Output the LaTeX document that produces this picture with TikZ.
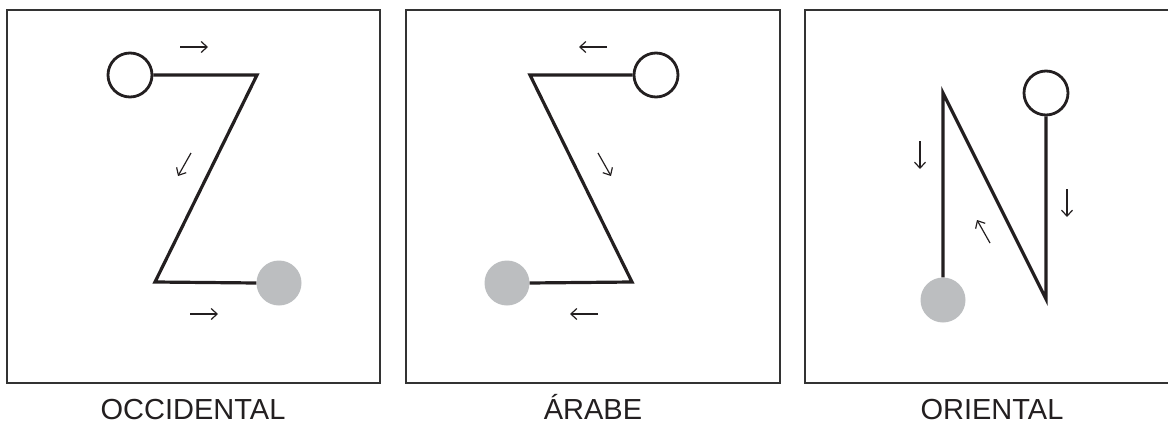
\documentclass[tikz,border=0pt]{standalone}
\usepackage{fontspec}
\setmainfont{Liberation Sans}
\usetikzlibrary{arrows.meta}
\definecolor{boxc}{HTML}{333333}
\definecolor{grayfill}{HTML}{BCBEC0}
\definecolor{ink}{HTML}{231F20}
\tikzset{
  panel/.style={draw=boxc, line width=1.4},
  path/.style={draw=ink, line width=3.2, line join=miter},
  opendot/.style={circle, draw=ink, line width=2.8, fill=white, minimum size=44, inner sep=0},
  filldot/.style={circle, fill=grayfill, minimum size=45, inner sep=0},
  dirarrow/.style={draw=ink, line width=1.2, -{Straight Barb[length=6, width=11, line width=1.2]}},
  label/.style={anchor=base, font=\fontsize{29}{34}\selectfont, text=ink}
}
\begin{document}
\begin{tikzpicture}[x=1pt,y=-1pt]
\useasboundingbox (0,0) rectangle (1168,423);
\begin{scope}
\clip (0,0) rectangle (1168,423);
% panels
\draw[panel] (7,10) rectangle (380,383);
\draw[panel] (406,10) rectangle (780,383);
\draw[panel] (805,10) rectangle (1179,383);

% ---- OCCIDENTAL ----
\node[opendot] (o1) at (130,75) {};
\coordinate (a1) at (257,75);
\coordinate (b1) at (155,282);
\node[filldot] (g1) at (279,283) {};
\draw[path] (o1.east) -- (a1) -- (b1) -- (g1.west);
\coordinate (r1s) at (180,47); \coordinate (r1e) at (208,47);
\draw[dirarrow] (r1s) -- (r1e);
\coordinate (d1s) at (191,153); \coordinate (d1e) at (178,176);
\draw[dirarrow] (d1s) -- (d1e);
\coordinate (r2s) at (190,314); \coordinate (r2e) at (218,314);
\draw[dirarrow] (r2s) -- (r2e);
\node[label] (t1) at (193,419) {OCCIDENTAL};

% ---- ARABE ----
\node[opendot] (o2) at (656,75) {};
\coordinate (a2) at (530,75);
\coordinate (b2) at (632,282);
\node[filldot] (g2) at (507,283) {};
\draw[path] (o2.west) -- (a2) -- (b2) -- (g2.east);
\coordinate (l1s) at (607,47); \coordinate (l1e) at (579,47);
\draw[dirarrow] (l1s) -- (l1e);
\coordinate (d2s) at (598,153); \coordinate (d2e) at (611,176);
\draw[dirarrow] (d2s) -- (d2e);
\coordinate (l2s) at (598,314); \coordinate (l2e) at (570,314);
\draw[dirarrow] (l2s) -- (l2e);
\node[label] (t2) at (593,419) {ÁRABE};

% ---- ORIENTAL ----
\node[opendot] (o3) at (1046,93) {};
\coordinate (a3) at (1046,299);
\coordinate (b3) at (943,93);
\node[filldot] (g3) at (943,300) {};
\draw[path] (o3.south) -- (a3) -- (b3) -- (g3.north);
\coordinate (v1s) at (920,141); \coordinate (v1e) at (920,169);
\draw[dirarrow] (v1s) -- (v1e);
\coordinate (v2s) at (1067,189); \coordinate (v2e) at (1067,217);
\draw[dirarrow] (v2s) -- (v2e);
\coordinate (u1s) at (990,243); \coordinate (u1e) at (977,220);
\draw[dirarrow] (u1s) -- (u1e);
\node[label] (t3) at (992,419) {ORIENTAL};
\end{scope}
\end{tikzpicture}
\end{document}
